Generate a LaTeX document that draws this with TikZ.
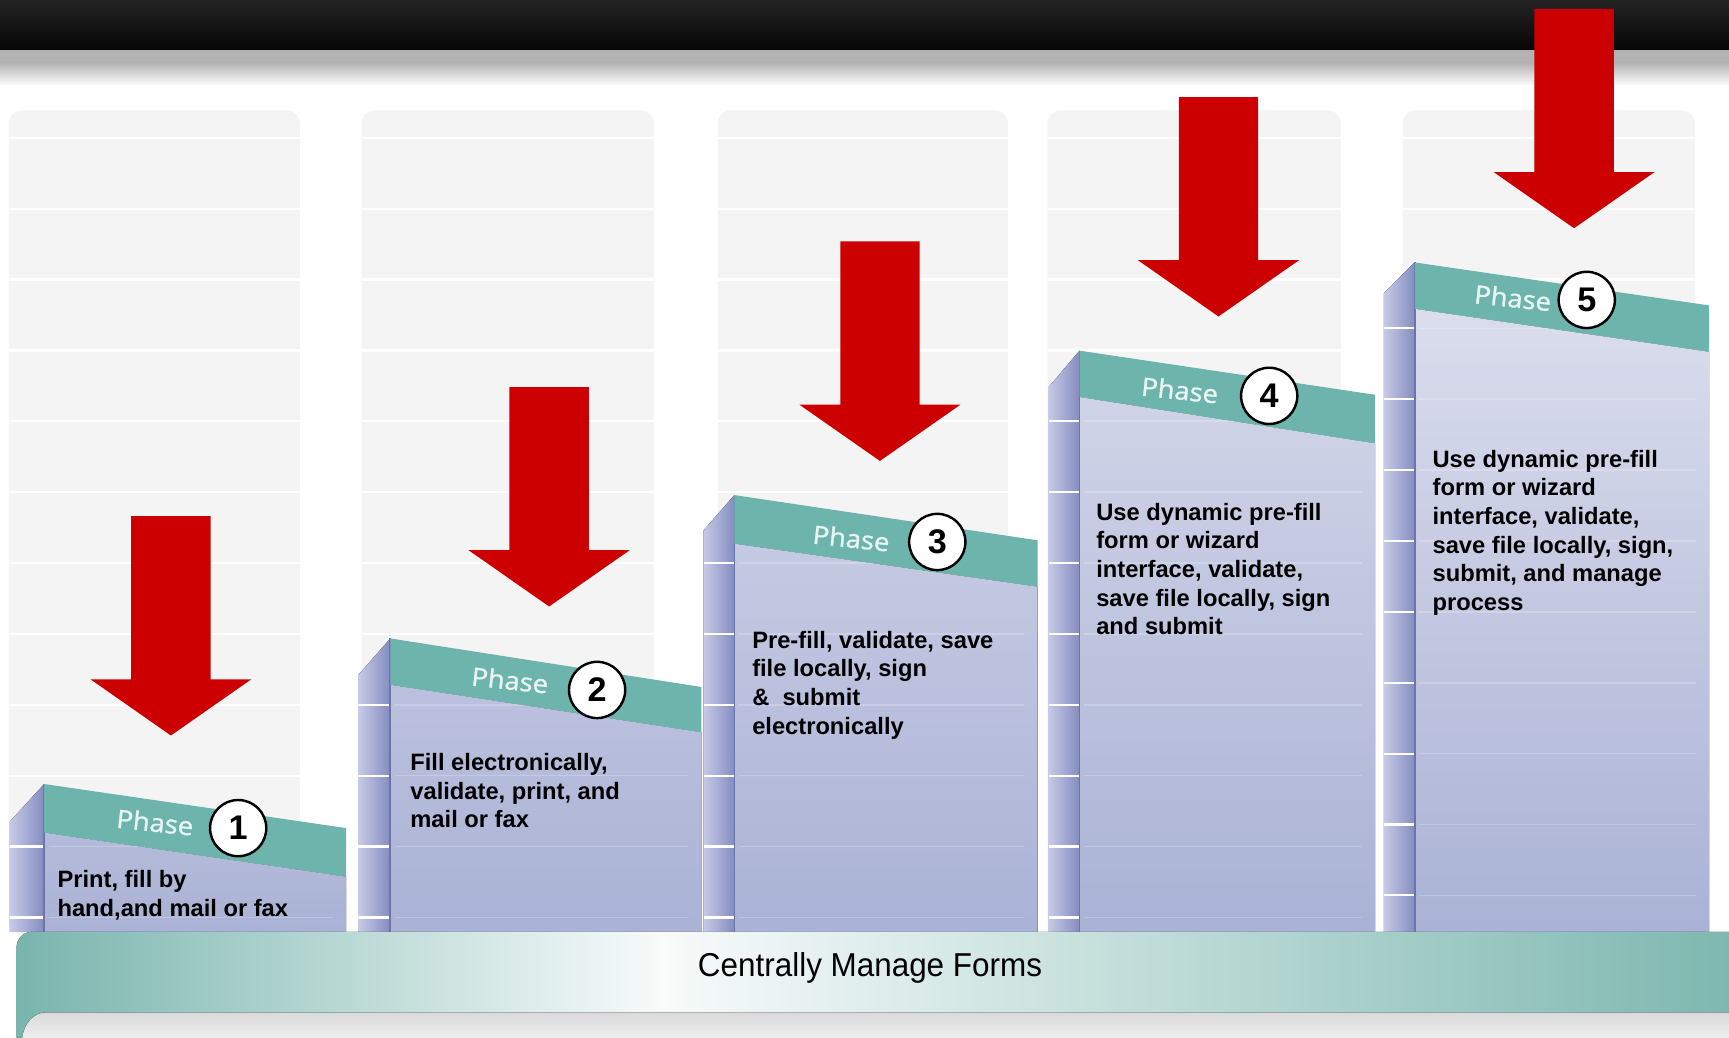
\documentclass[tikz,border=0pt]{standalone}
\usepackage{fontspec}
\setmainfont{Liberation Sans}
\newfontfamily\phasefont[FakeBold=1.2]{Open Sans}
\usepackage{graphicx}
\definecolor{teal1}{RGB}{108,180,172}
\definecolor{phasetxt}{RGB}{234,245,243}
\definecolor{lavT}{RGB}{224,226,239}
\definecolor{lavB}{RGB}{170,178,213}
\definecolor{sideL}{RGB}{198,202,230}
\definecolor{sideR}{RGB}{132,140,192}
\definecolor{sideEdge}{RGB}{108,116,172}
\definecolor{arrowred}{RGB}{204,0,0}
\definecolor{colgray}{RGB}{244,244,244}
\definecolor{bandL}{RGB}{118,179,171}
\definecolor{bandR}{RGB}{126,184,176}
\definecolor{bandW}{RGB}{247,251,250}
\definecolor{barTop}{RGB}{36,36,36}
\definecolor{barBot}{RGB}{6,6,6}
\definecolor{greyband}{RGB}{179,179,179}
\definecolor{shadeA}{RGB}{216,216,216}
\definecolor{shadeB}{RGB}{238,238,238}
\tikzset{
  desc/.style={font=\fontsize{21.5}{26}\selectfont\bfseries, align=left, anchor=north west, inner sep=0pt, text=black},
  num/.style={circle, draw=black, line width=2.2pt, fill=white, minimum size=51pt, inner sep=0pt, font=\fontsize{31}{31}\selectfont\bfseries},
  phase/.style={font=\phasefont\fontsize{23}{23}\selectfont, text=phasetxt, inner sep=0pt, rotate=-6},
  redarrow/.style={fill=arrowred},
  bgcol/.style={fill=colgray, rounded corners=12pt},
  rowline/.style={white, line width=2pt},
}
\begin{document}
\begin{tikzpicture}[x=1pt,y=-1pt]
\useasboundingbox (0,0) rectangle (1568,941);
\fill[white] (0,0) rectangle (1568,941);
% top bar
\fill[top color=barTop, bottom color=barBot] (0,0) rectangle (1568,45);
\fill[greyband] (0,45) rectangle (1568,57);
\fill[top color=greyband, bottom color=white] (0,57) rectangle (1568,78);
% background columns
\foreach \a/\b in {8/272, 328/593, 651/914, 950/1216, 1272/1537}{
  \fill[bgcol] (\a,100) -- (\b,100) -- (\b,848) -- (\a,848) -- cycle;
  \foreach \k in {0,...,11}{
    \pgfmathsetmacro{\ty}{125+64.27*\k}
    \draw[rowline] (\a,\ty) -- (\b,\ty);
  }
}
% steps
\foreach \n/\xs/\xl/\xr/\yt/\ytr/\ybl/\ybr/\yb/\mix/\off in {
  1/9/40/314/711/751/755/795/745/80/0,
  2/325/354/636/579/623/621/664/612/68/0,
  3/638/666/941/449/490/493/532/481/50/0,
  4/951/979/1247/318/358/360/402/351/30/0,
  5/1255/1283/1550/238/277/280/319/266/10/-20}{
  \fill[left color=sideL, right color=sideR] (\xs,\yb) -- (\xl,\yt) -- (\xl,845) -- (\xs,845) -- cycle;
  \fill[top color=lavB!\mix!lavT, bottom color=lavB] (\xl,\ybl) -- (\xr,\ybr) -- (\xr,845) -- (\xl,845) -- cycle;
  \foreach \k in {0,...,11}{
    \pgfmathsetmacro{\ty}{125+64.27*\k+\off}
    \pgfmathsetmacro{\lim}{\yb+6}
    \ifdim\ty pt>\lim pt
      \draw[rowline] (\xs,\ty) -- (\xl,\ty);
      \draw[white, opacity=0.22, line width=1.5pt] (\xl+4,\ty) -- (\xr-12,\ty);
    \fi
  }
  \draw[sideEdge, line width=1.6pt] (\xl,\yt) -- (\xl,845);
  \fill[teal1] (\xl,\yt) -- (\xr,\ytr) -- (\xr,\ybr) -- (\xl,\ybl) -- cycle;
}
% phase labels
\node[phase] (ph1) at (140.6,745.6) {\scalebox{1.08}[1]{Phase}};
\node[phase] (ph2) at (462.5,616.7) {\scalebox{1.08}[1]{Phase}};
\node[phase] (ph3) at (772,488) {\scalebox{1.08}[1]{Phase}};
\node[phase] (ph4) at (1070,353.7) {\scalebox{1.08}[1]{Phase}};
\node[phase] (ph5) at (1372,270) {\scalebox{1.08}[1]{Phase}};
% number circles
\node[num] (c1) at (216,751) {1};
\node[num] (c2) at (541.5,625.7) {2};
\node[num] (c3) at (850,491.5) {3};
\node[num] (c4) at (1151,359) {4};
\node[num] (c5) at (1439,272) {5};
% descriptions
\node[desc] (d1) at (52,789) {Print, fill by\\hand,and mail or fax};
\node[desc] (d2) at (372,683) {Fill electronically,\\validate, print, and\\mail or fax};
\node[desc] (d3) at (682,572) {Pre-fill, validate, save\\file locally, sign\\\&\ \ submit\\electronically};
\node[desc] (d4) at (994,456) {Use dynamic pre-fill\\form or wizard\\interface, validate,\\save file locally, sign\\and submit};
\node[desc] (d5) at (1299,408) {Use dynamic pre-fill\\form or wizard\\interface, validate,\\save file locally, sign,\\submit, and manage\\process};
% bottom band
\fill[top color=shadeA, bottom color=shadeB] (15,916) rectangle (1568,941);
\begin{scope}
  \clip (15,941) -- (15,860) .. controls (15,851) and (21,845) .. (30,845) -- (1568,845) -- (1568,918) -- (42,918) .. controls (30,918) and (22,928) .. (20,941) -- cycle;
  \fill[left color=bandL, right color=bandW] (0,840) rectangle (600,941);
  \fill[left color=bandW, right color=bandR] (600,840) rectangle (1568,941);
\end{scope}
\node[anchor=base, inner sep=0pt] (cmf) at (789,886) {\fontsize{30}{30}\selectfont\scalebox{0.95}[1]{Centrally Manage Forms}};
% red arrows
\foreach \cx/\ty in {155/468, 498/351, 798/219, 1105/88, 1427.5/8}{
  \fill[redarrow] ({\cx-36},\ty) -- ({\cx+36},\ty) -- ({\cx+36},{\ty+148}) -- ({\cx+73},{\ty+148}) -- (\cx,{\ty+199}) -- ({\cx-73},{\ty+148}) -- ({\cx-36},{\ty+148}) -- cycle;
}
\end{tikzpicture}
\end{document}
